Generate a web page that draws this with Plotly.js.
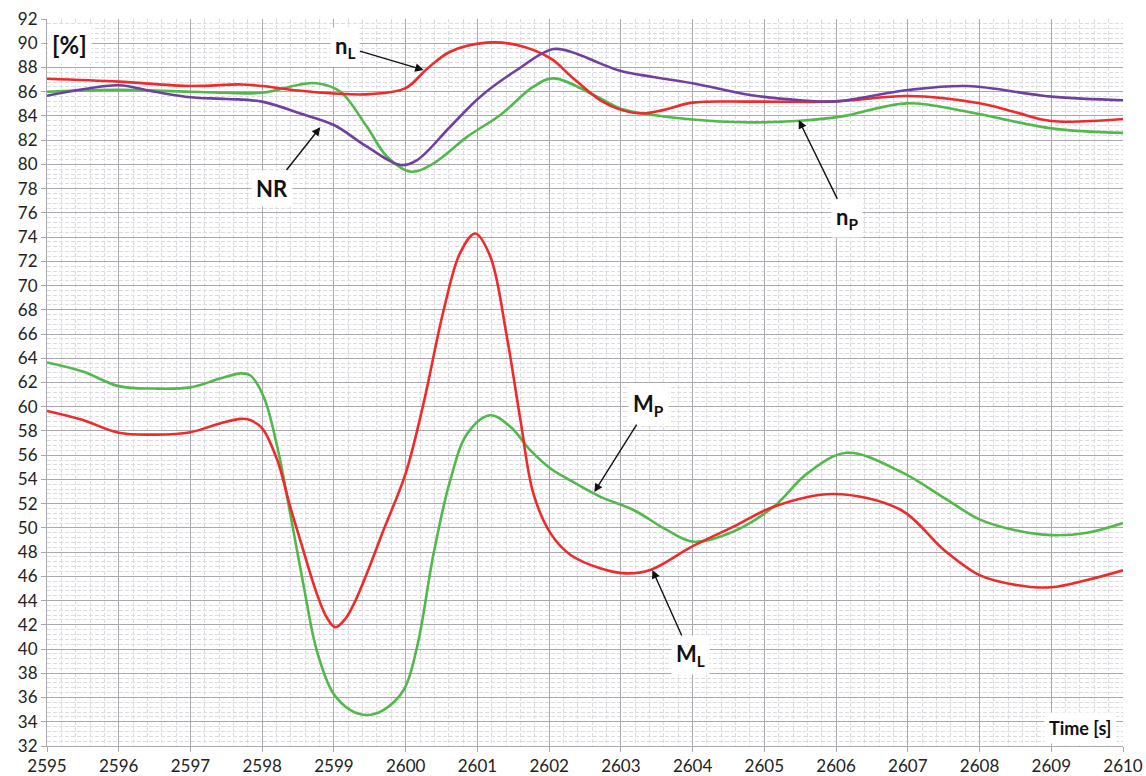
<!DOCTYPE html>
<html>
<head>
<meta charset="utf-8">
<script src="https://cdn.plot.ly/plotly-3.0.1.min.js"></script>
<style>html,body{margin:0;padding:0;background:#fff;}#chart{width:1146px;height:776px;}</style>
</head>
<body>
<div id="chart"></div>
<script>
// n_L (red, upper)
const tNL = [2595, 2596, 2597, 2597.7, 2598, 2598.5, 2599, 2599.5, 2600, 2600.3, 2600.62, 2601.13, 2601.55, 2602.02, 2602.3, 2602.71, 2603, 2603.3, 2603.6, 2604, 2604.8, 2606, 2607, 2608, 2608.5, 2609, 2610];
const vNL = [87.07, 86.83, 86.47, 86.6, 86.47, 86.1, 85.85, 85.8, 86.3, 87.9, 89.3, 90.05, 89.85, 88.75, 87.3, 85.3, 84.5, 84.2, 84.5, 85.1, 85.18, 85.2, 85.64, 85.04, 84.3, 83.58, 83.75];
// NR (purple)
const tNR = [2595, 2595.5, 2596, 2596.5, 2597, 2597.5, 2598, 2598.53, 2599, 2599.46, 2599.93, 2600.16, 2600.62, 2601.04, 2601.55, 2602.06, 2602.4, 2602.71, 2603, 2604, 2604.8, 2605.5, 2606, 2607, 2607.83, 2609, 2610];
const vNR = [85.67, 86.2, 86.53, 86.0, 85.54, 85.4, 85.18, 84.2, 83.25, 81.46, 79.95, 80.36, 83.11, 85.59, 87.79, 89.52, 89.1, 88.34, 87.7, 86.7, 85.73, 85.3, 85.2, 86.14, 86.47, 85.59, 85.3];
// n_P (green, upper)
const tNP = [2595, 2596, 2597, 2598, 2598.53, 2598.76, 2599.09, 2599.46, 2599.74, 2600.07, 2600.39, 2600.86, 2601.32, 2601.78, 2602.06, 2602.71, 2603, 2604, 2604.8, 2605.5, 2606.06, 2606.99, 2607.83, 2609, 2610];
const vNP = [86.0, 86.15, 86.0, 85.92, 86.6, 86.7, 86.0, 83.1, 80.64, 79.4, 80.09, 82.29, 84.08, 86.41, 87.1, 85.46, 84.6, 83.7, 83.47, 83.6, 83.94, 85.04, 84.35, 82.97, 82.6];
// M_L (red, lower)
const tML = [2595, 2595.5, 2596, 2596.5, 2597, 2597.4, 2597.7, 2597.83, 2598, 2598.21, 2598.39, 2598.53, 2598.76, 2598.9, 2599.02, 2599.16, 2599.3, 2599.46, 2599.69, 2600, 2600.25, 2600.53, 2600.76, 2600.97, 2601.18, 2601.41, 2601.6, 2601.78, 2602.02, 2602.3, 2602.71, 2603.06, 2603.41, 2603.99, 2604.57, 2605.13, 2605.96, 2606.9, 2607.5, 2608, 2608.5, 2609, 2609.5, 2610];
const vML = [59.65, 58.9, 57.85, 57.7, 57.9, 58.6, 59.0, 58.9, 58.22, 55.6, 51.75, 49.0, 44.6, 42.6, 41.8, 42.5, 44.0, 46.25, 49.8, 54.5, 60.3, 67.98, 72.7, 74.3, 72.4, 65.8, 58.9, 52.85, 49.55, 47.76, 46.67, 46.25, 46.53, 48.45, 50.1, 51.75, 52.8, 51.5, 48.2, 46.1, 45.3, 45.1, 45.7, 46.5];
// M_P (green, lower)
const tMP = [2595, 2595.5, 2596, 2596.5, 2597, 2597.4, 2597.7, 2597.83, 2598.02, 2598.21, 2598.39, 2598.58, 2598.76, 2598.99, 2599.23, 2599.46, 2599.69, 2599.97, 2600.16, 2600.39, 2600.62, 2600.86, 2601.18, 2601.46, 2601.74, 2602.02, 2602.3, 2602.71, 2603.17, 2603.64, 2604.01, 2604.57, 2605.13, 2605.6, 2606.15, 2606.9, 2607.5, 2608, 2608.5, 2609, 2609.5, 2610];
const vMP = [63.65, 62.9, 61.7, 61.5, 61.6, 62.3, 62.75, 62.6, 60.83, 56.7, 51.2, 45.15, 39.9, 36.35, 34.97, 34.56, 34.97, 36.6, 40.2, 47.9, 53.9, 57.8, 59.3, 58.35, 56.4, 54.9, 53.9, 52.58, 51.5, 49.83, 48.86, 49.7, 51.75, 54.5, 56.2, 54.64, 52.5, 50.7, 49.8, 49.4, 49.6, 50.4];

const RED = '#ee2a2a', GREEN = '#52b84c', PURPLE = '#7040a0';

function line(x, y, color) {
  return {x: x, y: y, type: 'scatter', mode: 'lines', line: {color: color, width: 2.6, shape: 'spline', smoothing: 1}, hoverinfo: 'skip'};
}
const traces = [
  line(tMP, vMP, GREEN),
  line(tML, vML, RED),
  line(tNP, vNP, GREEN),
  line(tNL, vNL, RED),
  line(tNR, vNR, PURPLE)
];

const labelFont = {family: 'Lato, "Liberation Sans", sans-serif', size: 22, color: '#111'};
function label(x, y, text, size) {
  return {x: x, y: y, xref: 'x', yref: 'y', text: '<b>' + text + '</b>', showarrow: false,
    bgcolor: '#ffffff', borderpad: 4, font: Object.assign({}, labelFont, size ? {size: size} : {})};
}
// label placed at (lx, ly) with an arrow pointing at (x, y)
function pointer(x, y, lx, ly, text) {
  return {x: x, y: y, ax: lx, ay: ly, xref: 'x', yref: 'y', axref: 'x', ayref: 'y',
    text: '<b>' + text + '</b>', font: labelFont, bgcolor: '#ffffff', borderpad: 4,
    showarrow: true, arrowhead: 2, arrowsize: 1.2, arrowwidth: 1.4, arrowcolor: '#111', standoff: 0, startstandoff: 0};
}
const annotations = [
  label(2595.32, 89.9, '[%]', 24),
  pointer(2600.25, 87.79, 2599.16, 89.71, 'n<sub>L</sub>'),
  pointer(2598.81, 83.06, 2598.14, 78.05, 'NR'),
  pointer(2605.48, 83.66, 2606.15, 75.55, 'n<sub>P</sub>'),
  pointer(2602.63, 52.96, 2603.39, 60.14, 'M<sub>P</sub>'),
  pointer(2603.44, 46.53, 2603.97, 39.51, 'M<sub>L</sub>'),
  label(2609.41, 33.5, 'Time [s]', 18)
];

const tickFont = {family: 'Lato, "Liberation Sans", sans-serif', size: 17, color: '#222'};
const layout = {
  width: 1146, height: 776,
  margin: {l: 47, r: 23, t: 19, b: 30, pad: 0},
  paper_bgcolor: '#ffffff', plot_bgcolor: '#ffffff',
  showlegend: false,
  xaxis: {
    range: [2595, 2610], tick0: 2595, dtick: 1, tickformat: 'd',
    showgrid: true, gridcolor: '#a8a8ae', gridwidth: 1,
    showline: true, linecolor: '#a8a8ae', linewidth: 1,
    ticks: 'outside', ticklen: 5, tickcolor: '#a8a8ae',
    zeroline: false, tickfont: tickFont,
    minor: {tick0: 2595, dtick: 0.2, showgrid: true, gridcolor: '#dcdce0', gridwidth: 1, griddash: '4px,2px', ticks: ''}
  },
  yaxis: {
    range: [32, 92], tick0: 32, dtick: 2,
    showgrid: true, gridcolor: '#a8a8ae', gridwidth: 1,
    showline: true, linecolor: '#a8a8ae', linewidth: 1,
    ticks: 'outside', ticklen: 5, tickcolor: '#a8a8ae',
    zeroline: false, tickfont: tickFont,
    minor: {tick0: 32, dtick: 0.4, showgrid: true, gridcolor: '#dcdce0', gridwidth: 1, griddash: '4px,2px', ticks: ''}
  },
  annotations: annotations
};

Plotly.newPlot('chart', traces, layout, {staticPlot: true, displayModeBar: false});
</script>
</body>
</html>
